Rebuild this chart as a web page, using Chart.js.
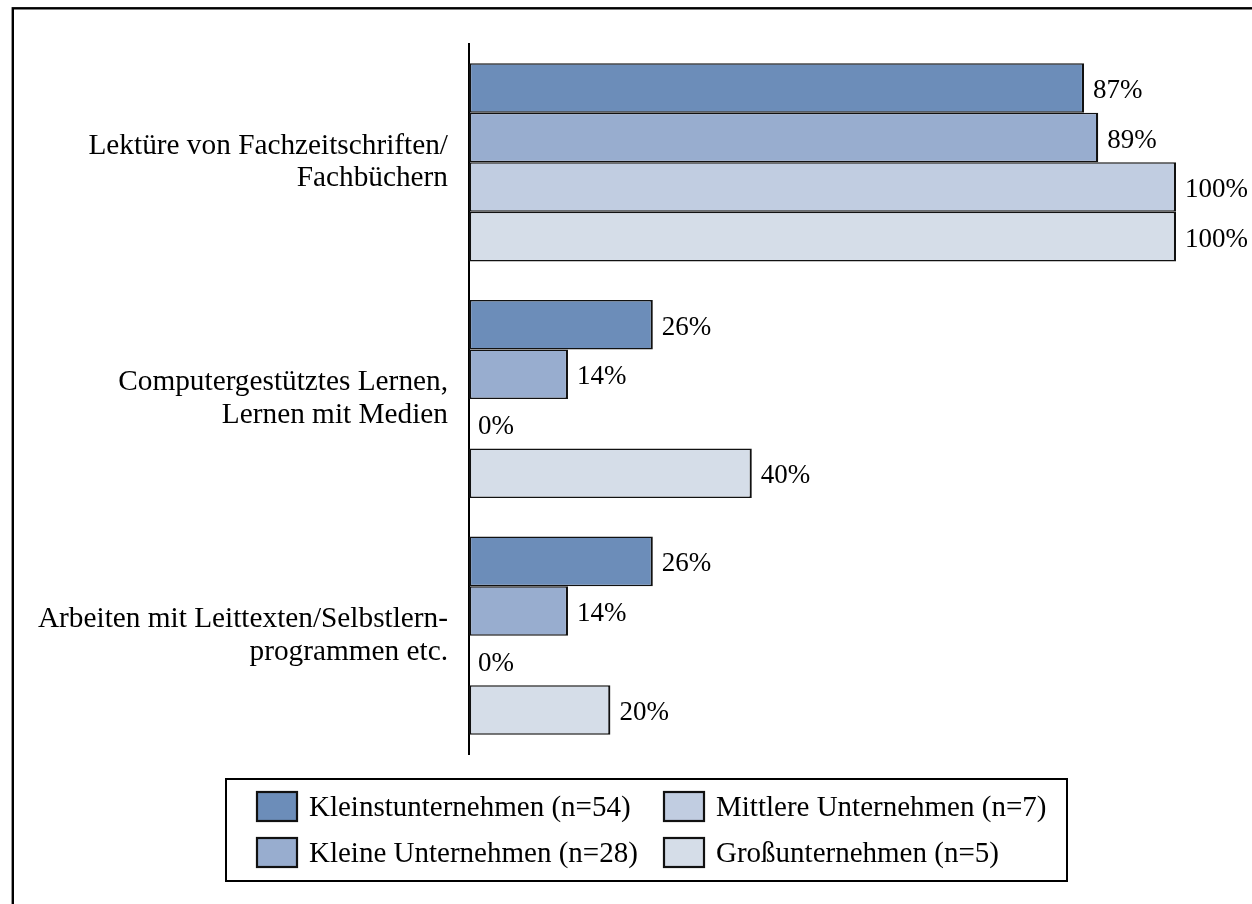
<!DOCTYPE html>
<html>
<head>
<meta charset="utf-8">
<script src="https://cdn.jsdelivr.net/npm/chart.js@4/dist/chart.umd.min.js"></script>
<style>
  html, body { margin: 0; padding: 0; background: #ffffff; }
  #wrap { position: relative; width: 1252px; height: 904px; }
</style>
</head>
<body>
<div id="wrap"><canvas id="c" width="1252" height="904"></canvas></div>
<script>
const categories = [
  ["Lektüre von Fachzeitschriften/", "Fachbüchern"],
  ["Computergestütztes Lernen,", "Lernen mit Medien"],
  ["Arbeiten mit Leittexten/Selbstlern-", "programmen etc."]
];
const seriesNames = [
  "Kleinstunternehmen (n=54)",
  "Kleine Unternehmen (n=28)",
  "Mittlere Unternehmen (n=7)",
  "Großunternehmen (n=5)"
];
const kleinst = [87, 26, 26];
const kleine = [89, 14, 14];
const mittlere = [100, 0, 0];
const gross = [100, 40, 20];
const seriesColors = ["#6C8DB9", "#98ADCF", "#C1CDE1", "#D5DDE8"];

const FONT = "'Liberation Serif', 'Times New Roman', serif";

const frame = {
  id: 'frame',
  beforeDraw(chart) {
    const ctx = chart.ctx;
    ctx.save();
    ctx.fillStyle = '#ffffff';
    ctx.fillRect(0, 0, chart.width, chart.height);
    ctx.strokeStyle = '#000000';
    ctx.lineWidth = 2.4;
    ctx.strokeRect(12.8, 8.3, 2000, 2000);
    ctx.restore();
  }
};

const valueLabels = {
  id: 'valueLabels',
  afterDatasetsDraw(chart) {
    const ctx = chart.ctx;
    ctx.save();
    ctx.font = "27px " + FONT;
    ctx.fillStyle = '#000000';
    ctx.textAlign = 'left';
    ctx.textBaseline = 'middle';
    chart.data.datasets.forEach((ds, di) => {
      const meta = chart.getDatasetMeta(di);
      meta.data.forEach((bar, i) => {
        ctx.fillText(ds.data[i] + '%', bar.x + 9, bar.y + 3);
      });
    });
    ctx.restore();
  }
};

const boxLegend = {
  id: 'boxLegend',
  afterDraw(chart) {
    const ctx = chart.ctx;
    const L = 226, T = 779, R = 1067, B = 881;
    ctx.save();
    ctx.strokeStyle = '#000000';
    ctx.lineWidth = 2;
    ctx.strokeRect(L, T, R - L, B - T);
    const cols = [256, 663];
    const rows = [791, 837];
    ctx.font = "29px " + FONT;
    ctx.textBaseline = 'middle';
    ctx.textAlign = 'left';
    chart.data.datasets.forEach((ds, i) => {
      const col = Math.floor(i / 2), row = i % 2;
      const x = cols[col], y = rows[row];
      ctx.fillStyle = ds.backgroundColor;
      ctx.fillRect(x, y, 42, 31);
      ctx.lineWidth = 2.2;
      ctx.strokeStyle = '#111111';
      ctx.strokeRect(x + 1, y + 1, 40, 29);
      ctx.fillStyle = '#000000';
      ctx.fillText(ds.label, x + 53, y + 17);
    });
    ctx.restore();
  }
};

const dataArrays = [kleinst, kleine, mittlere, gross];
const datasets = dataArrays.map((arr, i) => ({
  label: seriesNames[i],
  data: arr,
  backgroundColor: seriesColors[i],
  borderColor: '#111111',
  borderWidth: { top: 1.5, bottom: 1.5, left: 2.2, right: 2.2 },
  borderSkipped: false,
  categoryPercentage: 0.837,
  barPercentage: 1.0
}));

new Chart(document.getElementById('c'), {
  type: 'bar',
  data: { labels: categories, datasets: datasets },
  options: {
    indexAxis: 'y',
    responsive: false,
    animation: false,
    maintainAspectRatio: false,
    layout: { padding: { top: 44, bottom: 150, right: 76, left: 0 } },
    plugins: {
      legend: { display: false },
      tooltip: { enabled: false }
    },
    scales: {
      x: {
        display: false,
        min: 0,
        max: 100
      },
      y: {
        afterFit(scale) {
          scale.width = 469;
          scale.paddingTop = 0;
          scale.paddingBottom = 0;
        },
        grid: { display: false, drawTicks: false },
        border: { display: true, color: '#000000', width: 2 },
        ticks: {
          color: '#000000',
          padding: 21,
          font: { family: FONT, size: 29.3, lineHeight: 1.12 }
        }
      }
    }
  },
  plugins: [frame, valueLabels, boxLegend]
});
</script>
</body>
</html>
